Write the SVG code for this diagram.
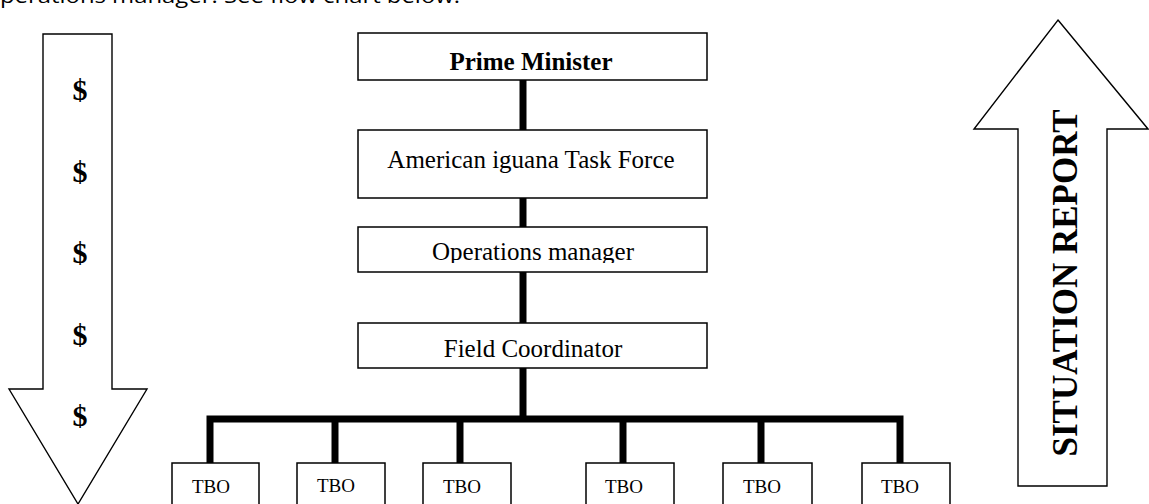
<svg xmlns="http://www.w3.org/2000/svg" width="1149" height="504" viewBox="0 0 1149 504">
<style>
.shape{fill:#fff;stroke:#000;stroke-width:1.4}
.box{fill:#fff;stroke:#000;stroke-width:1.5}
.t{font-family:"Liberation Serif","Times New Roman",serif;fill:#000}
.lbl{font-size:25px;text-anchor:middle}
.b{font-weight:bold}
.tbo{font-size:19px}
.dol{font-size:30px;font-weight:bold;text-anchor:middle}
.conn{fill:none;stroke:#000;stroke-width:7;stroke-linejoin:miter}
</style>
<defs>
<clipPath id="clipOps"><rect x="358" y="227" width="349" height="36"/></clipPath>
</defs>
<text x="0" y="3" font-family="Open Sans, Liberation Sans, sans-serif" font-size="20" textLength="460" lengthAdjust="spacingAndGlyphs" fill="#000">perations manager. See flow chart below.</text>

<g id="money-arrow">
<polygon class="shape" points="43,34 112,34 112,389 147,389 78,504 9,389 43,389"/>
<text class="t dol" x="80" y="100">$</text>
<text class="t dol" x="80" y="182">$</text>
<text class="t dol" x="80" y="263">$</text>
<text class="t dol" x="80" y="345">$</text>
<text class="t dol" x="80" y="426">$</text>
</g>

<g id="report-arrow">
<polygon class="shape" points="1058,20 1148,129 1107,129 1107,486 1018,486 1018,129 974,129"/>
<text class="t b" font-size="36" text-anchor="middle" textLength="347" lengthAdjust="spacingAndGlyphs" transform="translate(1077,283) rotate(-90)">SITUATION REPORT</text>
</g>

<g id="connectors">
<line class="conn" x1="523" y1="80" x2="523" y2="130"/>
<line class="conn" x1="523" y1="198" x2="523" y2="227"/>
<line class="conn" x1="523" y1="272" x2="523" y2="323"/>
<line class="conn" x1="523" y1="368" x2="523" y2="419"/>
<path class="conn" d="M210,463 V419 H900 V463"/>
<line class="conn" x1="335" y1="419" x2="335" y2="463"/>
<line class="conn" x1="460" y1="419" x2="460" y2="463"/>
<line class="conn" x1="623" y1="419" x2="623" y2="463"/>
<line class="conn" x1="761" y1="419" x2="761" y2="463"/>
</g>

<g id="prime-minister">
<rect class="box" x="358" y="33" width="349" height="47"/>
<text class="t lbl b" x="531" y="70">Prime Minister</text>
</g>
<g id="task-force">
<rect class="box" x="358" y="130" width="349" height="68"/>
<text class="t lbl" x="531" y="168">American iguana Task Force</text>
</g>
<g id="operations-manager">
<rect class="box" x="358" y="227" width="349" height="45"/>
<text class="t lbl" x="533" y="260" clip-path="url(#clipOps)">Operations manager</text>
</g>
<g id="field-coordinator">
<rect class="box" x="358" y="323" width="349" height="45"/>
<text class="t lbl" x="533" y="357">Field Coordinator</text>
</g>

<g id="tbo-1"><rect class="box" x="172" y="463" width="87" height="50"/><text class="t tbo" x="192" y="493">TBO</text></g>
<g id="tbo-2"><rect class="box" x="297" y="463" width="88" height="50"/><text class="t tbo" x="317" y="492">TBO</text></g>
<g id="tbo-3"><rect class="box" x="423" y="463" width="88" height="50"/><text class="t tbo" x="443" y="493">TBO</text></g>
<g id="tbo-4"><rect class="box" x="586" y="463" width="88" height="50"/><text class="t tbo" x="605" y="493">TBO</text></g>
<g id="tbo-5"><rect class="box" x="723" y="463" width="89" height="50"/><text class="t tbo" x="743" y="493">TBO</text></g>
<g id="tbo-6"><rect class="box" x="862" y="463" width="88" height="50"/><text class="t tbo" x="881" y="493">TBO</text></g>
</svg>
